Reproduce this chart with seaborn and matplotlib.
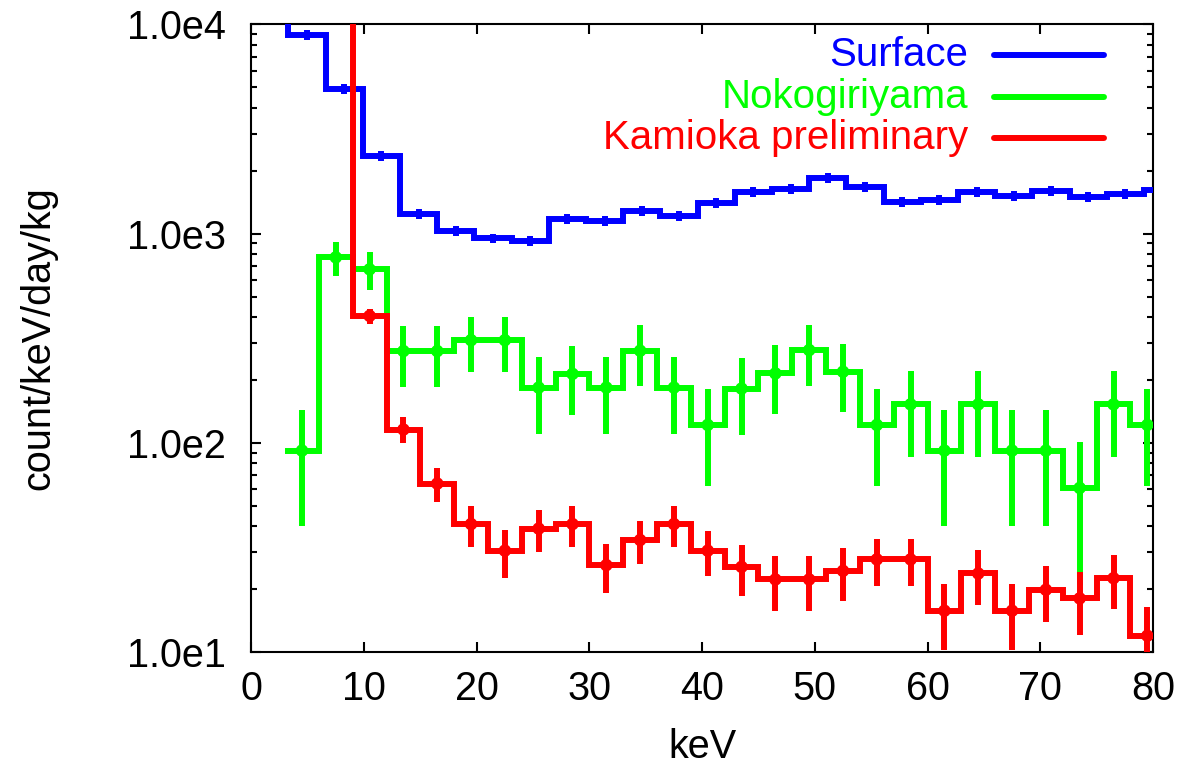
import matplotlib
matplotlib.use("Agg")
import matplotlib.pyplot as plt
from matplotlib.ticker import FixedLocator, FixedFormatter, LogLocator, NullFormatter
from matplotlib.lines import Line2D
import seaborn as sns
import numpy as np

# Surface: bins of 3.3 keV
surface_kev = [1.65, 4.95, 8.25, 11.55, 14.85, 18.15, 21.45, 24.75, 28.05, 31.35,
               34.65, 37.95, 41.25, 44.55, 47.85, 51.15, 54.45, 57.75, 61.05, 64.35,
               67.65, 70.95, 74.25, 77.55, 80.85]
surface_rate = [12000, 8900, 4900, 2350, 1240, 1030, 950, 923, 1175, 1153,
                1283, 1213, 1400, 1590, 1630, 1840, 1668, 1423, 1450, 1578,
                1520, 1597, 1503, 1550, 1620]
surface_err = [0, 500, 270, 130, 70, 57, 52, 51, 65, 63,
               70, 67, 77, 87, 90, 100, 92, 78, 80, 87,
               84, 88, 83, 85, 89]

# Nokogiriyama: bins of 3 keV
noko_kev = [4.5, 7.5, 10.5, 13.5, 16.5, 19.5, 22.5, 25.5, 28.5, 31.5, 34.5, 37.5,
            40.5, 43.5, 46.5, 49.5, 52.5, 55.5, 58.5, 61.5, 64.5, 67.5, 70.5, 73.5,
            76.5, 79.5]
noko_rate = [92, 771, 676, 275, 275, 310, 310, 184, 214, 184, 276, 184,
             122, 182, 215, 278, 219, 122, 153, 92, 153, 92, 92, 61,
             153, 122]
noko_err = [52, 145, 138, 89, 89, 92, 92, 73, 78, 73, 89, 73,
            60, 73, 78, 90, 78, 60, 67, 52, 67, 52, 52, 40,
            67, 60]

# Kamioka preliminary: bins of 3 keV
kamioka_kev = [7.5, 10.5, 13.5, 16.5, 19.5, 22.5, 25.5, 28.5, 31.5, 34.5, 37.5,
               40.5, 43.5, 46.5, 49.5, 52.5, 55.5, 58.5, 61.5, 64.5, 67.5, 70.5,
               73.5, 76.5, 79.5]
kamioka_rate = [30000, 405, 116, 64, 41, 30.6, 39, 41, 26.1, 34.4, 41,
                30.6, 25.6, 22.3, 22.3, 24.5, 27.8, 27.8, 15.8, 23.8, 15.8, 19.9,
                18.1, 22.6, 12.0]
kamioka_err = [0, 33, 16.5, 12, 9, 8, 9, 9, 7, 8, 9,
               7.5, 7, 6.5, 6.5, 7, 7, 7, 5.5, 7, 5.5, 6,
               6, 6.5, 4.5]

series_names = ["Surface", "Nokogiriyama", "Kamioka preliminary"]
series_colors = ["#0000ff", "#00ff00", "#ff0000"]

x_ticks = [0, 10, 20, 30, 40, 50, 60, 70, 80]
y_ticks = [1e1, 1e2, 1e3, 1e4]
y_tick_labels = ["1.0e1", "1.0e2", "1.0e3", "1.0e4"]

sns.set_theme(style="ticks")
plt.rcParams['font.family'] = ['Liberation Sans', 'DejaVu Sans']
plt.rcParams['text.color'] = 'black'
plt.rcParams['axes.labelcolor'] = 'black'

fig = plt.figure(figsize=(11.88, 7.75), dpi=100)
ax = fig.add_axes([0.2115, 0.1583, 0.759, 0.8102])
ax.set_yscale('log')

datasets = [
    (surface_kev, surface_rate, surface_err, 5.5),
    (noko_kev, noko_rate, noko_err, 9),
    (kamioka_kev, kamioka_rate, kamioka_err, 9),
]

for (kev, rate, err, ms), color in zip(datasets, series_colors):
    c = np.array(kev)
    w = c[1] - c[0]
    edges = np.r_[c - w / 2, c[-1] + w / 2]
    ax.stairs(rate, edges, baseline=None, color=color, linewidth=4.3, zorder=3)
    ax.errorbar(kev, rate, yerr=err, fmt='none', ecolor=color, elinewidth=4.3,
                capsize=0, zorder=3)
    sns.scatterplot(x=kev, y=rate, ax=ax, color=color, s=ms ** 2, marker='o',
                    edgecolor='none', zorder=4, legend=False)

ax.set_xlim(0, 80)
ax.set_ylim(10, 1e4)
ax.xaxis.set_major_locator(FixedLocator(x_ticks))
ax.yaxis.set_major_locator(FixedLocator(y_ticks))
ax.yaxis.set_major_formatter(FixedFormatter(y_tick_labels))
ax.yaxis.set_minor_locator(LogLocator(base=10, subs=np.arange(2, 10)))
ax.yaxis.set_minor_formatter(NullFormatter())

ax.tick_params(which='both', direction='in', top=True, right=True, width=1.5,
               colors='black', labelsize=28.5)
ax.tick_params(which='major', length=7.5)
ax.tick_params(which='minor', length=4)
ax.tick_params(axis='y', pad=18)
ax.tick_params(axis='x', pad=13)
for s in ax.spines.values():
    s.set_linewidth(1.5)
    s.set_color('black')

ax.set_xlabel("keV", fontsize=28.5, labelpad=14, color='black')
ax.set_ylabel("count/keV/day/kg", fontsize=28.5, labelpad=50, color='black')

# key in the upper right, text right-aligned before the line sample
key_y = [0.951, 0.885, 0.819]
for name, color, yy in zip(series_names, series_colors, key_y):
    ax.text(0.795, yy, name, color=color, fontsize=29, ha='right', va='center',
            transform=ax.transAxes, zorder=6)
    ax.add_line(Line2D([0.824, 0.946], [yy, yy], color=color, linewidth=4.3,
                       transform=ax.transAxes, zorder=6))

fig.savefig("out.png", dpi=100)
